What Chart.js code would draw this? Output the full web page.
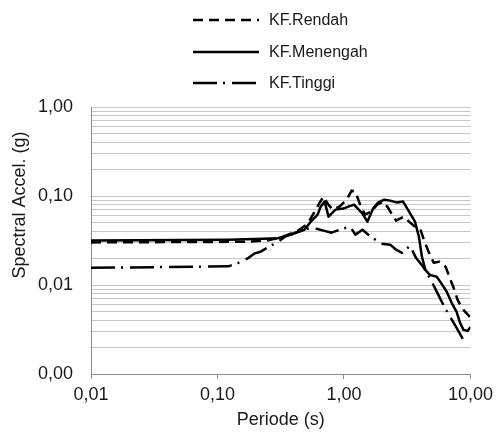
<!DOCTYPE html>
<html>
<head>
<meta charset="utf-8">
<script src="https://cdn.jsdelivr.net/npm/chart.js@4"></script>
<style>
  html, body { margin: 0; padding: 0; background: #fff; }
  #wrap { width: 498px; height: 435px; }
</style>
</head>
<body>
<div id="wrap"><canvas id="chart" width="498" height="435"></canvas></div>
<script>
// Data (period in s, spectral accel. in g)
const periodRendah = [0.01, 0.175, 0.251, 0.330, 0.432, 0.517, 0.598, 0.642, 0.690, 0.742, 0.813, 0.922, 1.05, 1.15, 1.23, 1.35, 1.47, 1.64, 1.83, 2.04, 2.23, 2.40, 2.58, 2.77, 2.98, 3.27, 3.64, 4.05, 4.36, 4.77, 5.12, 5.71, 6.37, 6.84, 7.36, 7.91, 8.65, 10.0];
const saRendah = [0.0301, 0.0306, 0.0319, 0.0349, 0.0408, 0.0489, 0.0703, 0.0843, 0.0985, 0.082, 0.0703, 0.076, 0.091, 0.115, 0.112, 0.078, 0.0617, 0.067, 0.080, 0.0865, 0.074, 0.0617, 0.0529, 0.0557, 0.0585, 0.0515, 0.0452, 0.0408, 0.0299, 0.0219, 0.0178, 0.0183, 0.0160, 0.0121, 0.0093, 0.0068, 0.0054, 0.0043];

const periodMenengah = [0.01, 0.122, 0.230, 0.301, 0.380, 0.487, 0.546, 0.619, 0.654, 0.703, 0.755, 0.857, 0.991, 1.08, 1.20, 1.40, 1.53, 1.70, 1.86, 2.08, 2.32, 2.63, 2.93, 3.27, 3.64, 3.91, 4.13, 4.40, 4.77, 5.41, 5.92, 6.49, 7.10, 7.77, 8.27, 8.81, 9.47, 10.0];
const saMenengah = [0.0317, 0.0323, 0.0331, 0.0336, 0.0368, 0.0418, 0.0515, 0.0617, 0.0760, 0.0865, 0.0586, 0.0703, 0.0722, 0.076, 0.080, 0.0634, 0.0515, 0.0722, 0.0843, 0.091, 0.0887, 0.0843, 0.0865, 0.0667, 0.0515, 0.0349, 0.0208, 0.0148, 0.0130, 0.0124, 0.0103, 0.0084, 0.0063, 0.0050, 0.00375, 0.00313, 0.00305, 0.00338];

const periodTinggi = [0.01, 0.122, 0.146, 0.175, 0.195, 0.218, 0.260, 0.301, 0.341, 0.394, 0.473, 0.567, 0.690, 0.798, 0.973, 1.12, 1.23, 1.40, 1.59, 1.77, 1.97, 2.32, 2.58, 2.88, 3.33, 3.71, 4.28, 4.94, 5.51, 5.92, 6.49, 7.10, 7.77, 8.35, 9.14];
const saTinggi = [0.0156, 0.0162, 0.0177, 0.0201, 0.0225, 0.0236, 0.0273, 0.0306, 0.0349, 0.0377, 0.0418, 0.0441, 0.0408, 0.0387, 0.043, 0.0452, 0.0368, 0.0418, 0.0358, 0.0323, 0.0291, 0.0284, 0.0249, 0.0230, 0.0276, 0.0202, 0.0156, 0.0109, 0.0080, 0.0065, 0.0051, 0.0041, 0.0033, 0.00275, 0.00218];

const seriesNames = ["KF.Rendah", "KF.Menengah", "KF.Tinggi"];
const xTickValues = [0.01, 0.1, 1, 10];
const xTickLabels = ["0,01", "0,10", "1,00", "10,00"];
const yDecades = [0.001, 0.01, 0.1, 1];
const yTickLabels = ["0,00", "0,01", "0,10", "1,00"];

const FONT = "'Liberation Sans', Arial, sans-serif";
const TEXT = "#1a1a1a";

function toPoints(xs, ys) {
  return xs.map((x, i) => ({ x: x, y: ys[i] }));
}

// y gridlines at every 1..9 x 10^n
const yGridValues = [];
yDecades.forEach((d, i) => {
  if (i === yDecades.length - 1) { yGridValues.push(d); return; }
  for (let k = 1; k <= 9; k++) yGridValues.push(+(d * k).toPrecision(3));
});

// legend stacked on top, plus rotated y title
const extras = {
  id: "extras",
  afterDraw(chart) {
    const ctx = chart.ctx;
    const rows = [20, 52, 83];
    ctx.save();
    chart.data.datasets.forEach((ds, i) => {
      ctx.beginPath();
      ctx.setLineDash(ds.borderDash || []);
      ctx.lineWidth = ds.borderWidth;
      ctx.strokeStyle = ds.borderColor;
      ctx.moveTo(193, rows[i]);
      ctx.lineTo(259, rows[i]);
      ctx.stroke();
      ctx.setLineDash([]);
      ctx.fillStyle = TEXT;
      ctx.font = "16px " + FONT;
      ctx.textAlign = "left";
      ctx.textBaseline = "middle";
      ctx.fillText(ds.label, 269, rows[i] + 1);
    });
    ctx.translate(20, 205);
    ctx.rotate(-Math.PI / 2);
    ctx.font = "18px " + FONT;
    ctx.textAlign = "center";
    ctx.textBaseline = "middle";
    ctx.fillText("Spectral Accel. (g)", 0, 0);
    ctx.restore();
  }
};

new Chart(document.getElementById("chart"), {
  type: "line",
  data: {
    datasets: [
      { label: seriesNames[0], data: toPoints(periodRendah, saRendah), borderColor: "#000", borderWidth: 2.5, borderDash: [10, 6] },
      { label: seriesNames[1], data: toPoints(periodMenengah, saMenengah), borderColor: "#000", borderWidth: 2.5 },
      { label: seriesNames[2], data: toPoints(periodTinggi, saTinggi), borderColor: "#000", borderWidth: 2.5, borderDash: [24, 6, 2, 7] }
    ]
  },
  options: {
    responsive: false,
    animation: false,
    layout: { padding: { top: 107, right: 24, left: 0, bottom: 0 } },
    elements: { point: { radius: 0 }, line: { tension: 0, borderCapStyle: "butt", borderJoinStyle: "round" } },
    plugins: { legend: { display: false }, tooltip: { enabled: false } },
    scales: {
      x: {
        type: "logarithmic",
        min: 0.01,
        max: 10,
        afterBuildTicks: s => { s.ticks = xTickValues.map(v => ({ value: v })); },
        afterFit: s => { s.height = 61; },
        ticks: {
          autoSkip: false,
          maxRotation: 0,
          padding: 5,
          color: TEXT,
          font: { family: FONT, size: 18 },
          callback: (v, i) => xTickLabels[i]
        },
        grid: { drawOnChartArea: false, drawTicks: true, tickLength: 5, color: "#8c8c8c" },
        border: { color: "#8c8c8c" },
        title: { display: true, text: "Periode (s)", color: TEXT, font: { family: FONT, size: 18 }, padding: { top: 0, bottom: 4 } }
      },
      y: {
        type: "logarithmic",
        min: 0.001,
        max: 1,
        afterBuildTicks: s => { s.ticks = yGridValues.map(v => ({ value: v })); },
        afterFit: s => { s.width = 91; },
        ticks: {
          autoSkip: false,
          padding: 18,
          color: TEXT,
          font: { family: FONT, size: 18 },
          callback: v => {
            const k = yDecades.findIndex(d => Math.abs(d - v) < d * 1e-6);
            return k >= 0 ? yTickLabels[k] : "";
          }
        },
        grid: { color: "#c6c6c6", drawTicks: false },
        border: { color: "#8c8c8c" }
      }
    }
  },
  plugins: [extras]
});
</script>
</body>
</html>
